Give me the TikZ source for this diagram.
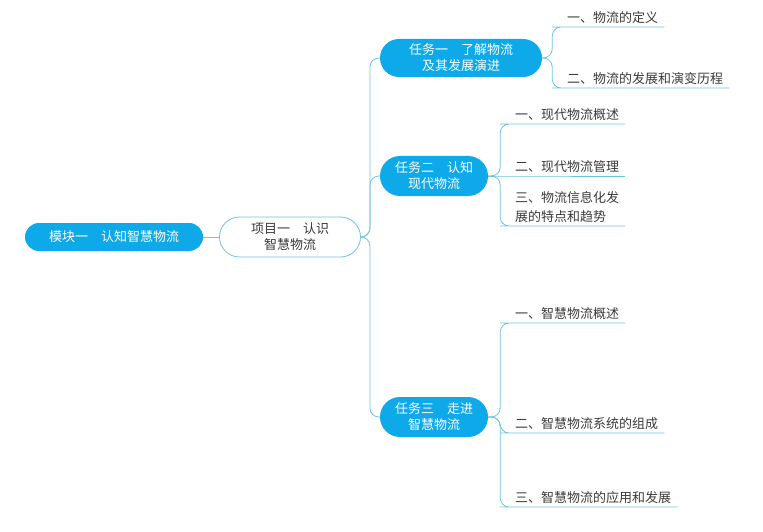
\documentclass[tikz,border=0pt]{standalone}
\usepackage{fontspec}
\newfontfamily\cjk{Noto Sans CJK SC}
\definecolor{pillblue}{HTML}{0DA9E8}
\definecolor{linkblue}{HTML}{6FC3DF}
\definecolor{txtgray}{HTML}{3A3A3A}
\tikzset{
  pill/.style={rectangle, rounded corners=14pt, fill=pillblue, text=white, align=center,
    font=\cjk\fontsize{13}{16}\selectfont, inner sep=0pt},
  proj/.style={rectangle, rounded corners=20pt, draw=linkblue, line width=0.8pt, fill=white,
    text=txtgray, align=center, font=\cjk\fontsize{13}{16}\selectfont, inner sep=0pt},
  leaf/.style={anchor=south west, inner xsep=6pt, inner ysep=3pt, align=left, text=txtgray,
    font=\cjk\fontsize{13}{19}\selectfont},
  conn/.style={draw=linkblue, line width=0.8pt, rounded corners=9pt},
}
\begin{document}
\begin{tikzpicture}[x=1pt,y=-1pt]
\useasboundingbox (0,0) rectangle (763,532);
% main nodes
\node[pill, minimum width=178pt, minimum height=28pt] (m1) at (114,237) {模块一　认知智慧物流};
\node[proj, minimum width=141pt, minimum height=40pt] (p1) at (290,237) {项目一　认识\\智慧物流};
\node[pill, rounded corners=19pt, minimum width=162pt, minimum height=38pt] (t1) at (461,58) {任务一　了解物流\\及其发展演进};
\node[pill, rounded corners=20pt, minimum width=108pt, minimum height=40pt] (t2) at (434,176) {任务二　认知\\现代物流};
\node[pill, rounded corners=20pt, minimum width=108pt, minimum height=40pt] (t3) at (434,417) {任务三　走进\\智慧物流};
% leaves
\node[leaf] (a1) at (561,27) {一、物流的定义};
\node[leaf] (a2) at (561,88) {二、物流的发展和演变历程};
\node[leaf] (b1) at (509,124) {一、现代物流概述};
\node[leaf] (b2) at (509,176) {二、现代物流管理};
\node[leaf] (b3) at (509,226) {三、物流信息化发\\展的特点和趋势};
\node[leaf] (c1) at (509,323) {一、智慧物流概述};
\node[leaf] (c2) at (509,433) {二、智慧物流系统的组成};
\node[leaf] (c3) at (509,507) {三、智慧物流的应用和发展};
% connectors
\draw[conn] (m1.east) -- (p1.west);
\draw[conn] (p1.east) -- ++(9,0) |- (t1.west);
\draw[conn] (p1.east) -- ++(9,0) |- (t2.west);
\draw[conn] (p1.east) -- ++(9,0) |- (t3.west);
\draw[conn] (t1.east) -- ++(10,0) |- (a1.south west) -- (a1.south east);
\draw[conn] (t1.east) -- ++(10,0) |- (a2.south west) -- (a2.south east);
\draw[conn] (t2.east) -- ++(12,0) |- (b1.south west) -- (b1.south east);
\draw[conn] (t2.east) -- (b2.south west) -- (b2.south east);
\draw[conn] (t2.east) -- ++(12,0) |- (b3.south west) -- (b3.south east);
\draw[conn] (t3.east) -- ++(12,0) |- (c1.south west) -- (c1.south east);
\draw[conn] (t3.east) -- ++(12,0) |- (c2.south west) -- (c2.south east);
\draw[conn] (t3.east) -- ++(12,0) |- (c3.south west) -- (c3.south east);
\end{tikzpicture}
\end{document}
